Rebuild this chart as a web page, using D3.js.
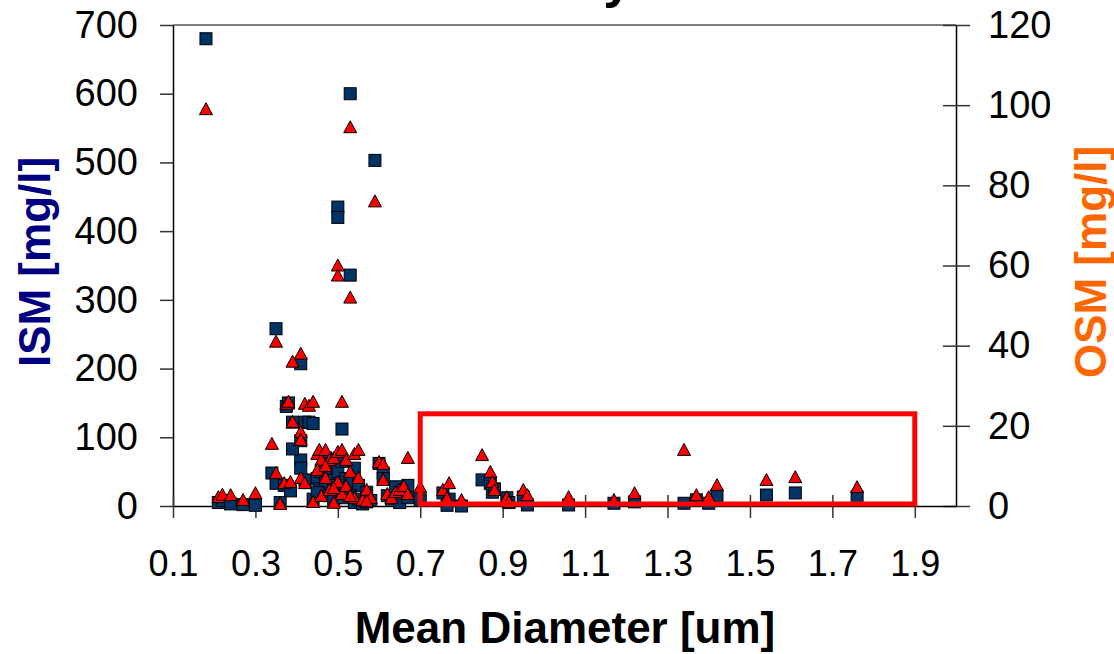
<!doctype html>
<html lang="en">
<head>
<meta charset="utf-8">
<title>ISM and OSM vs Mean Diameter</title>
<script src="https://cdn.jsdelivr.net/npm/d3@7/dist/d3.min.js"></script>
<style>
  body { margin: 0; background: #fff; }
  svg { display: block; font-family: "Liberation Sans", Arial, sans-serif; }
</style>
</head>
<body>
<script>
// one sample per entry: mean diameter [um], ISM [mg/l], OSM [mg/l]
var diameter = [0.18, 0.53, 0.59, 0.50, 0.50, 0.53, 0.35, 0.41, 0.39, 0.375,
                0.38, 0.42, 0.43, 0.44, 0.51, 0.41, 0.41, 0.39, 0.34, 0.35,
                0.36, 0.37, 0.385, 0.41, 0.42, 0.44, 0.45, 0.455, 0.46, 0.46,
                0.47, 0.47, 0.48, 0.48, 0.49, 0.49, 0.50, 0.50, 0.51, 0.51,
                0.52, 0.52, 0.53, 0.54, 0.54, 0.55, 0.55, 0.56, 0.57, 0.58,
                0.60, 0.61, 0.61, 0.62, 0.63, 0.64, 0.65, 0.66, 0.67, 0.67,
                0.21, 0.22, 0.24, 0.27, 0.30, 0.45, 0.47, 0.49, 0.53, 0.57,
                0.70, 0.755, 0.765, 0.77, 0.80, 0.85, 0.87, 0.875, 0.88, 0.91,
                0.915, 0.95, 0.96, 1.06, 1.17, 1.22, 1.34, 1.37, 1.40, 1.42,
                1.54, 1.61, 1.76];
var ism = [680, 600, 503, 435, 420, 336, 258, 207, 122, 145,
           150, 122, 122, 120, 112, 95, 67, 83, 48, 33,
           5, 30, 22, 55, 38, 10, 40, 25, 50, 18,
           70, 35, 60, 15, 45, 8, 50, 28, 65, 12,
           40, 20, 35, 55, 5, 30, 10, 3, 20, 8,
           62, 48, 40, 15, 10, 28, 5, 18, 30, 12,
           5, 8, 3, 2, 1, 20, 55, 30, 15, 6,
           9, 19, 1, 10, 0, 38, 33, 20, 25, 12,
           5, 13, 1.5, 1.5, 4, 6, 4, 9, 4, 15,
           16, 19, 13];
var osm = [99, 94.5, 76, 60, 57.5, 52, 41, 38, 36, 25.5,
           26, 25.5, 25, 26, 26, 18.5, 16.5, 21, 15.5, 8.2,
           0.5, 5.7, 6, 7, 5.7, 1, 13, 14, 11.5, 2.5,
           14, 7, 11.5, 4, 12, 0.8, 13.5, 6, 14, 3,
           11.5, 5, 8.5, 13, 2, 14, 7, 1.5, 4, 2,
           11, 10.5, 6.5, 3, 2, 3.5, 4, 5, 12, 3,
           2.2, 2.8, 2.7, 1.5, 3.2, 9, 10, 4.5, 2.5, 1.2,
           4.7, 4, 2, 5.7, 1.5, 12.7, 8.5, 6, 4, 2.2,
           1, 4, 2.7, 2.2, 1.5, 3.2, 14, 2.7, 2.2, 5.2,
           6.5, 7.2, 4.7];

var xTicks = [0.1, 0.3, 0.5, 0.7, 0.9, 1.1, 1.3, 1.5, 1.7, 1.9];
var ismTicks = [0, 100, 200, 300, 400, 500, 600, 700];
var osmTicks = [0, 20, 40, 60, 80, 100, 120];

// highlighted region: diameter 0.7 - 1.9, OSM 0.5 - 23
var boxX = [0.7, 1.9];
var boxOsm = [0.5, 23];

var W = 1114, H = 654;
var svg = d3.select("body").append("svg").attr("width", W).attr("height", H);

var x = d3.scaleLinear().domain([0.1, 2.0]).range([173, 956]);
var yL = d3.scaleLinear().domain([0, 700]).range([506, 25]);
var yR = d3.scaleLinear().domain([0, 120]).range([506, 25]);

// title sits above the picture; only the tail of its last letter shows, as in the original
svg.append("text").attr("x", 560).attr("y", -3).attr("text-anchor", "middle")
    .style("font-size", "52px").style("font-weight", "bold").text("Study");

// frame top line
svg.append("line").attr("x1", 173).attr("x2", 956).attr("y1", 25).attr("y2", 25)
    .attr("stroke", "#555").attr("stroke-width", 1.5);

var gl = svg.append("g").attr("transform", "translate(173,0)")
    .call(d3.axisLeft(yL).tickValues(ismTicks).tickSize(13).tickSizeOuter(0).tickPadding(22));
gl.selectAll("text").style("font-size", "38px").attr("fill", "#000");

var gr = svg.append("g").attr("transform", "translate(956,0)")
    .call(d3.axisRight(yR).tickValues(osmTicks).tickSize(14).tickSizeOuter(0).tickPadding(18));
gr.selectAll(".tick line").attr("x1", -13);
gr.selectAll("text").style("font-size", "38px").attr("fill", "#000");

var gx = svg.append("g").attr("transform", "translate(0,506)")
    .call(d3.axisBottom(x).tickValues(xTicks).tickFormat(d3.format(".1f")).tickSize(12).tickSizeOuter(0));
gx.selectAll(".tick line").attr("y1", -11);
gx.selectAll("text").attr("y", 70).attr("dy", null).style("font-size", "36px").attr("fill", "#000");

[gl, gr, gx].forEach(function(g){
    g.select(".domain").attr("stroke", "#000").attr("stroke-width", 1.5);
    g.selectAll(".tick line").attr("stroke", "#333").attr("stroke-width", 1.5);
});

var samples = diameter.map(function(d, i){ return {d: d, ism: ism[i], osm: osm[i]}; });

// ISM squares
svg.append("g").selectAll("rect").data(samples).enter().append("rect")
    .attr("x", function(s){ return x(s.d) - 6; })
    .attr("y", function(s){ return yL(s.ism) - 6; })
    .attr("width", 12).attr("height", 12)
    .attr("fill", "#003366").attr("stroke", "#000").attr("stroke-width", 1);

// OSM triangles
svg.append("g").selectAll("path").data(samples).enter().append("path")
    .attr("d", function(s){
        var cx = x(s.d), cy = yR(s.osm);
        return "M" + (cx - 6.5) + "," + (cy + 5.5) + "L" + cx + "," + (cy - 6.5) + "L" + (cx + 6.5) + "," + (cy + 5.5) + "Z";
    })
    .attr("fill", "#ff0000").attr("stroke", "#000").attr("stroke-width", 1);

// red highlight box
svg.append("rect")
    .attr("x", x(boxX[0])).attr("y", yR(boxOsm[1]))
    .attr("width", x(boxX[1]) - x(boxX[0]))
    .attr("height", yR(boxOsm[0]) - yR(boxOsm[1]))
    .attr("fill", "none").attr("stroke", "#ff0000").attr("stroke-width", 5);

// axis titles
svg.append("text").attr("x", 565).attr("y", 643).attr("text-anchor", "middle")
    .style("font-size", "44px").style("font-weight", "bold").text("Mean Diameter [um]");
svg.append("text").attr("transform", "translate(50,262) rotate(-90)").attr("text-anchor", "middle")
    .style("font-size", "44px").style("font-weight", "bold").attr("fill", "#000080").text("ISM [mg/l]");
svg.append("text").attr("transform", "translate(1106,262) rotate(-90)").attr("text-anchor", "middle")
    .style("font-size", "44px").style("font-weight", "bold").attr("fill", "#ff6600").text("OSM [mg/l]");
</script>
</body>
</html>
